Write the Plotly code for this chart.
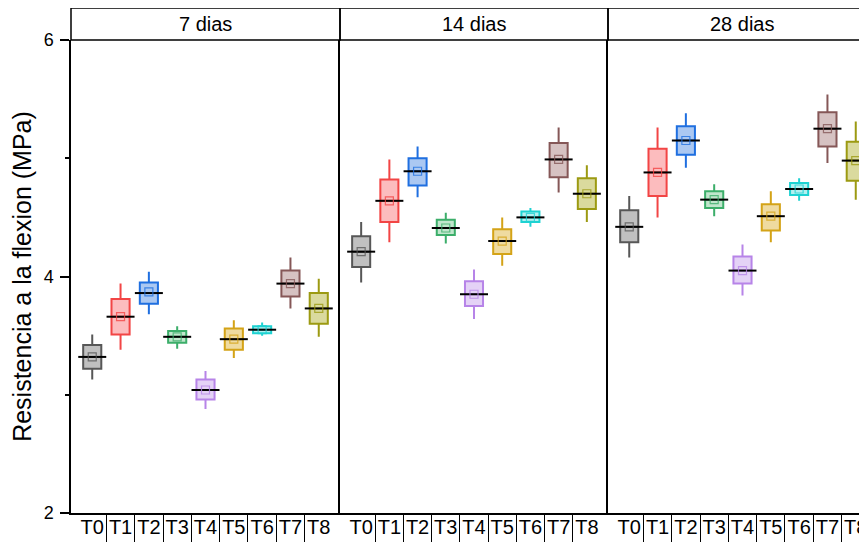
import plotly.graph_objects as go

categories = ["T0", "T1", "T2", "T3", "T4", "T5", "T6", "T7", "T8"]
panels = ["7 dias", "14 dias", "28 dias"]

line_colors = ["#575757", "#f24545", "#1f6fe0", "#3cae6a", "#b784e8",
               "#d4a317", "#1ed2d2", "#855757", "#9c9a12"]
fill_colors = ["#c0c0c0", "#fcbcbe", "#abc8f2", "#c0e6cc", "#e4d2f6",
               "#efdba0", "#b4f0f0", "#d6c2c2", "#dada9e"]

# 7 dias
d7_whislo = [3.13, 3.38, 3.68, 3.39, 2.88, 3.31, 3.50, 3.73, 3.49]
d7_q1 = [3.22, 3.51, 3.77, 3.44, 2.96, 3.38, 3.52, 3.83, 3.60]
d7_med = [3.32, 3.66, 3.86, 3.49, 3.04, 3.47, 3.55, 3.94, 3.73]
d7_q3 = [3.42, 3.81, 3.95, 3.54, 3.13, 3.56, 3.58, 4.05, 3.86]
d7_whishi = [3.51, 3.94, 4.04, 3.58, 3.20, 3.63, 3.61, 4.16, 3.98]
d7_mean = [3.32, 3.66, 3.87, 3.49, 3.04, 3.47, 3.55, 3.94, 3.73]

# 14 dias
d14_whislo = [3.95, 4.29, 4.67, 4.28, 3.64, 4.09, 4.42, 4.71, 4.46]
d14_q1 = [4.08, 4.46, 4.77, 4.35, 3.75, 4.19, 4.46, 4.84, 4.57]
d14_med = [4.21, 4.64, 4.89, 4.41, 3.85, 4.30, 4.50, 4.99, 4.70]
d14_q3 = [4.34, 4.82, 5.00, 4.48, 3.96, 4.40, 4.55, 5.13, 4.83]
d14_whishi = [4.46, 4.99, 5.10, 4.54, 4.06, 4.50, 4.58, 5.26, 4.94]
d14_mean = [4.21, 4.64, 4.89, 4.41, 3.85, 4.30, 4.50, 4.99, 4.70]

# 28 dias
d28_whislo = [4.16, 4.50, 4.92, 4.51, 3.84, 4.29, 4.64, 4.96, 4.65]
d28_q1 = [4.29, 4.68, 5.03, 4.58, 3.94, 4.39, 4.69, 5.10, 4.81]
d28_med = [4.42, 4.88, 5.15, 4.65, 4.05, 4.51, 4.74, 5.25, 4.98]
d28_q3 = [4.56, 5.08, 5.27, 4.72, 4.17, 4.61, 4.79, 5.39, 5.14]
d28_whishi = [4.68, 5.26, 5.38, 4.78, 4.27, 4.72, 4.83, 5.54, 5.31]
d28_mean = [4.42, 4.88, 5.15, 4.65, 4.05, 4.51, 4.74, 5.25, 4.98]

panel_data = [
    (d7_whislo, d7_q1, d7_med, d7_q3, d7_whishi, d7_mean),
    (d14_whislo, d14_q1, d14_med, d14_q3, d14_whishi, d14_mean),
    (d28_whislo, d28_q1, d28_med, d28_q3, d28_whishi, d28_mean),
]

FONT = "Liberation Sans, Arial, sans-serif"
# page body adds an 8px offset, so the layout is shifted by -8px
W, H = 867, 542
ML, MR, MT = 63, 0, 32
PH = 473
MB = H - MT - PH
PW = W - ML - MR
px_unit = 269 / 9.5
bounds = [0, 269, 537, PW]
domains = [[bounds[i] / PW, bounds[i + 1] / PW] for i in range(3)]
ranges = [[-0.75, 8.75], [-0.75, 8.75], [-0.75, -0.75 + (bounds[3] - bounds[2]) / px_unit]]

fig = go.Figure()
xpos = list(range(len(categories)))

for p, (lo, q1, med, q3, hi, mean) in enumerate(panel_data):
    xa = "x" if p == 0 else f"x{p+1}"
    ya = "y" if p == 0 else f"y{p+1}"
    for j in range(len(categories)):
        fig.add_trace(go.Box(
            x=[xpos[j]], q1=[q1[j]], median=[med[j]], q3=[q3[j]],
            lowerfence=[lo[j]], upperfence=[hi[j]],
            width=0.64, whiskerwidth=0, boxpoints=False,
            line=dict(color=line_colors[j], width=2),
            fillcolor=fill_colors[j], showlegend=False,
            xaxis=xa, yaxis=ya, hoverinfo="skip"))
    fig.add_trace(go.Scatter(
        x=xpos, y=med, mode="markers", xaxis=xa, yaxis=ya, showlegend=False,
        marker=dict(symbol="line-ew", size=20, line=dict(color="black", width=2)),
        hoverinfo="skip"))
    fig.add_trace(go.Scatter(
        x=xpos, y=mean, mode="markers", xaxis=xa, yaxis=ya, showlegend=False,
        marker=dict(symbol="square-open", size=8, color=line_colors,
                    line=dict(width=1.2), opacity=0.8),
        hoverinfo="skip"))

layout = dict(
    width=W, height=H, margin=dict(l=ML, r=MR, t=MT, b=MB, autoexpand=False),
    paper_bgcolor="white", plot_bgcolor="white",
    font=dict(family=FONT, color="black"),
)

for p in range(3):
    sfx = "" if p == 0 else str(p + 1)
    layout["xaxis" + sfx] = dict(
        domain=domains[p], range=ranges[p], anchor="y" + sfx, automargin=False,
        tickmode="array", tickvals=xpos, ticktext=categories,
        tickfont=dict(size=20, family=FONT), ticks="outside", ticklen=0,
        tickcolor="black", ticklabelstandoff=-5,
        minor=dict(tickmode="array", tickvals=[k + 0.5 for k in xpos[:-1]],
                   ticks="outside", ticklen=40, tickwidth=1, tickcolor="black",
                   showgrid=False),
        showline=True, linecolor="black", linewidth=1.5, mirror=False,
        showgrid=False, zeroline=False, fixedrange=True,
    )
    ydict = dict(
        domain=[0, 1], range=[2, 6], anchor="x" + sfx, automargin=False,
        showline=True, linecolor="black", linewidth=1.5,
        mirror=False, showgrid=False, zeroline=False,
    )
    if p == 0:
        ydict.update(
            tickmode="array", tickvals=[2, 4, 6], ticks="outside", ticklen=9,
            tickwidth=1.5, tickcolor="black", tickfont=dict(size=18, family=FONT),
            ticklabelstandoff=3,
            minor=dict(tickmode="array", tickvals=[3, 5], ticks="outside",
                       ticklen=4, tickwidth=1.5, tickcolor="black", showgrid=False),
            title=dict(text="Resistencia a la flexion (MPa)",
                       font=dict(size=25, family=FONT), standoff=6),
        )
    else:
        ydict.update(matches="y", showticklabels=False, ticks="")
    layout["yaxis" + sfx] = ydict

fig.update_layout(**layout)

strip_h = 32 / PH
for p in range(3):
    sfx = "" if p == 0 else str(p + 1)
    fig.add_shape(type="rect", xref=f"x{sfx} domain", yref=f"y{sfx} domain",
                  x0=0, x1=1 if p < 2 else 1.02, y0=1, y1=1 + strip_h,
                  line=dict(color="black", width=1.5), fillcolor="rgba(0,0,0,0)",
                  layer="above")
    fig.add_annotation(text=panels[p], xref=f"x{sfx} domain", yref=f"y{sfx} domain",
                       x=(0.5 * 269 / (bounds[p + 1] - bounds[p])) if p == 2 else 0.5,
                       y=1 + strip_h / 2, showarrow=False,
                       font=dict(size=20, family=FONT), xanchor="center", yanchor="middle")

fig.write_html("out.html")
